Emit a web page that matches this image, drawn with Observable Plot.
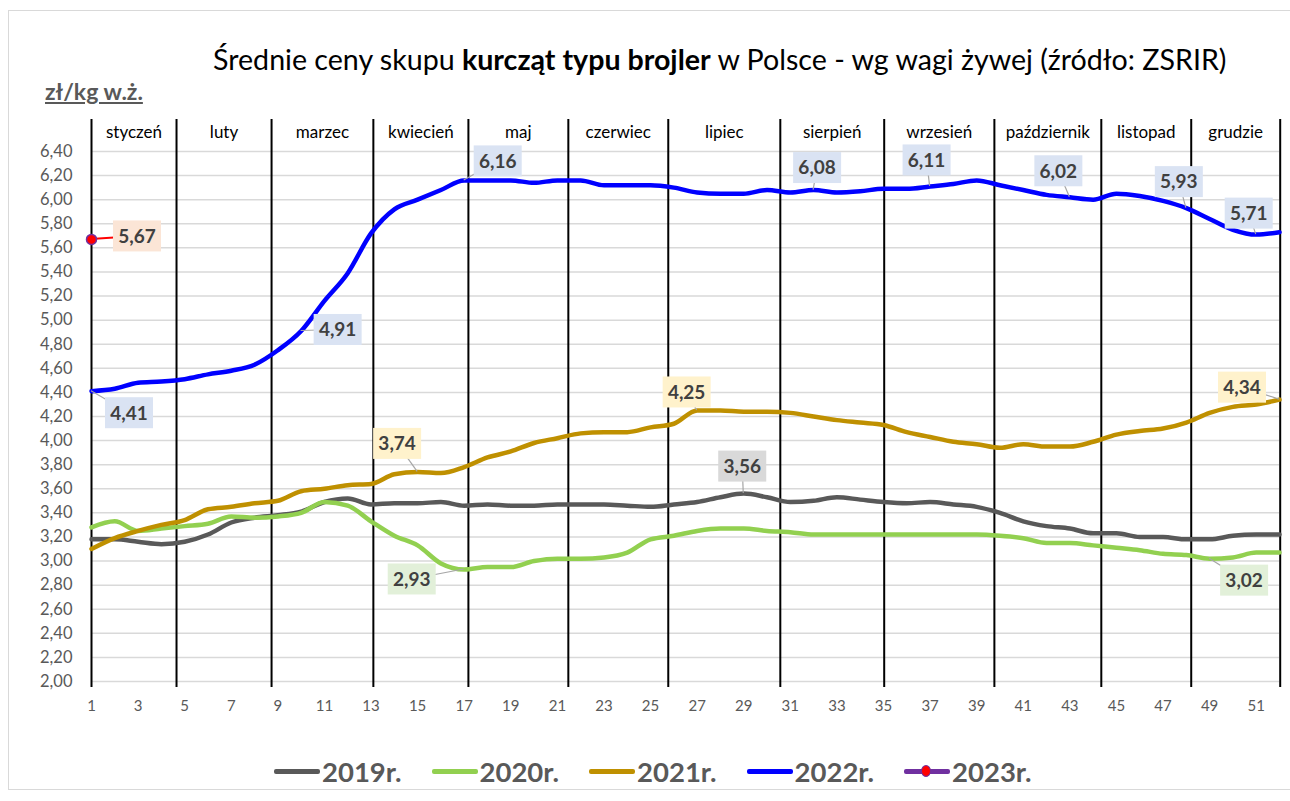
<!DOCTYPE html>
<html>
<head>
<meta charset="utf-8">
<script src="https://cdn.jsdelivr.net/npm/d3@7"></script>
<script src="https://cdn.jsdelivr.net/npm/@observablehq/plot@0.6"></script>
<style>
  body { margin: 0; background: #fff; font-family: Lato, "Open Sans", sans-serif; }
  #wrap { position: relative; width: 1290px; height: 801px; overflow: hidden; }
  #frame { position: absolute; left: 8px; top: 10px; width: 1300px; height: 780px; border: 1px solid #d9d9d9; box-sizing: border-box; }
  #title { position: absolute; left: 213px; top: 42px; white-space: nowrap; font-size: 28.6px; color: #000; }
  #unit { position: absolute; left: 45px; top: 77px; font-size: 23px; font-weight: bold; color: #595959; text-decoration: underline; }
  #chart { position: absolute; left: 0; top: 0; }
  #legend { position: absolute; top: 755px; left: 274px; display: flex; gap: 30px; align-items: center; font-size: 27.5px; font-weight: bold; color: #595959; }
  .item { display: flex; align-items: center; gap: 2px; }
  .sw { position: relative; width: 46px; height: 5px; border-radius: 2px; }
</style>
</head>
<body>
<div id="wrap">
  <div id="frame"></div>
  <div id="title">Średnie ceny skupu <b>kurcząt typu brojler</b> w Polsce - wg wagi żywej (źródło: ZSRIR)</div>
  <div id="unit">zł/kg w.ż.</div>
  <div id="chart"></div>
  <div id="legend"></div>
</div>
<script>
// ---- data ----
const years = ["2019r.", "2020r.", "2021r.", "2022r.", "2023r."];
const colors = ["#595959", "#92d050", "#bf9000", "#0000ff", "#7030a0"];

const y2019 = [3.18,3.18,3.16,3.14,3.16,3.22,3.32,3.36,3.38,3.41,
               3.49,3.52,3.47,3.48,3.48,3.49,3.46,3.47,3.46,3.46,
               3.47,3.47,3.47,3.46,3.45,3.47,3.49,3.53,3.56,3.53,
               3.49,3.50,3.53,3.51,3.49,3.48,3.49,3.47,3.45,3.40,
               3.33,3.29,3.27,3.23,3.23,3.20,3.20,3.18,3.18,3.21,3.22,3.22];
const y2020 = [3.28,3.33,3.25,3.27,3.29,3.31,3.37,3.36,3.37,3.40,
               3.49,3.46,3.33,3.21,3.13,2.98,2.93,2.95,2.95,3.00,
               3.02,3.02,3.03,3.07,3.18,3.21,3.25,3.27,3.27,3.25,
               3.24,3.22,3.22,3.22,3.22,3.22,3.22,3.22,3.22,3.21,
               3.19,3.15,3.15,3.13,3.11,3.09,3.06,3.05,3.02,3.03,3.07,3.07];
const y2021 = [3.10,3.19,3.25,3.30,3.34,3.43,3.45,3.48,3.50,3.58,
               3.60,3.63,3.64,3.72,3.74,3.73,3.78,3.86,3.91,3.98,
               4.02,4.06,4.07,4.07,4.11,4.14,4.25,4.25,4.24,4.24,
               4.23,4.20,4.17,4.15,4.13,4.07,4.03,3.99,3.97,3.94,
               3.97,3.95,3.95,3.99,4.05,4.08,4.10,4.15,4.23,4.28,4.30,4.34];
const y2022 = [4.41,4.43,4.48,4.49,4.51,4.55,4.58,4.63,4.75,4.91,
               5.16,5.39,5.72,5.92,6.00,6.08,6.16,6.16,6.16,6.14,
               6.16,6.16,6.12,6.12,6.12,6.10,6.06,6.05,6.05,6.08,
               6.06,6.08,6.06,6.07,6.09,6.09,6.11,6.13,6.16,6.12,
               6.08,6.04,6.02,6.00,6.05,6.03,5.99,5.93,5.84,5.75,5.71,5.73];
const y2023 = [5.67];

const yTicks = [2.0,2.2,2.4,2.6,2.8,3.0,3.2,3.4,3.6,3.8,4.0,4.2,4.4,4.6,4.8,5.0,5.2,5.4,5.6,5.8,6.0,6.2,6.4];
const xTicks = [1,3,5,7,9,11,13,15,17,19,21,23,25,27,29,31,33,35,37,39,41,43,45,47,49,51];

const monthNames = ["styczeń","luty","marzec","kwiecień","maj","czerwiec","lipiec","sierpień","wrzesień","październik","listopad","grudzie"];
const monthBounds = [1, 4.65, 8.73, 13.1, 17.18, 21.47, 25.76, 30.57, 35.03, 39.76, 44.35, 48.21, 52.03];

// callout labels: year, week, value shown
const calloutYear  = ["2023r.","2022r.","2022r.","2022r.","2022r.","2022r.","2022r.","2022r.","2022r.","2021r.","2021r.","2021r.","2019r.","2020r.","2020r."];
const calloutWeek  = [1, 1, 10, 17, 32, 37, 43, 48, 51, 15, 27, 52, 29, 17, 49];
const calloutValue = [5.67, 4.41, 4.91, 6.16, 6.08, 6.11, 6.02, 5.93, 5.71, 3.74, 4.25, 4.34, 3.56, 2.93, 3.02];
// label box offsets from the point (pixels)
const calloutDx = [46, 38, 37, 34, 4, -3, -11, -7, -7, -20, -10, -37, -1, -52, 35];
const calloutDy = [-3, 22, -1, -19, -22, -26, -26, -26, -21, -28, -18, -12, -27, 10, 22];
const boxFill = {"2019r.": "#d9d9d9", "2020r.": "#e2f0d9", "2021r.": "#fff2cc", "2022r.": "#dae3f3", "2023r.": "#fbe5d6"};

// ---- build tidy data ----
const series = [y2019, y2020, y2021, y2022];
const lineData = [];
series.forEach((arr, i) => arr.forEach((v, j) => lineData.push({year: years[i], week: j + 1, value: v})));
const point2023 = y2023.map((v, j) => ({year: years[4], week: j + 1, value: v}));
const months = monthNames.map((name, i) => ({name, mid: (monthBounds[i] + monthBounds[i + 1]) / 2}));
const callouts = calloutYear.map((y, i) => ({year: y, week: calloutWeek[i], value: calloutValue[i], dx: calloutDx[i], dy: calloutDy[i]}));
const fmt = d => d.toFixed(2).replace(".", ",");

function calloutMark(index, scales) {
  const g = d3.create("svg:g");
  for (const c of callouts) {
    const px = scales.x(c.week), py = scales.y(c.value);
    const cx = px + c.dx, cy = py + c.dy;
    g.append("line").attr("x1", px).attr("y1", py).attr("x2", cx).attr("y2", cy)
      .attr("stroke", c.year === "2023r." ? "#ff0000" : "#a6a6a6").attr("stroke-width", c.year === "2023r." ? 2 : 1.2);
    g.append("rect").attr("x", cx - 24).attr("y", cy - 15.5).attr("width", 48).attr("height", 31)
      .attr("fill", boxFill[c.year]);
    g.append("text").attr("x", cx).attr("y", cy).attr("text-anchor", "middle").attr("dy", "0.36em")
      .attr("font-family", "Lato, sans-serif").attr("font-size", 19).attr("font-weight", "bold").attr("fill", "#404040")
      .text(fmt(c.value));
  }
  return g.node();
}

const plot = Plot.plot({
  width: 1290,
  height: 730,
  marginTop: 151,
  marginBottom: 49,
  marginLeft: 91,
  marginRight: 11,
  style: {fontFamily: "Lato, sans-serif", background: "transparent", overflow: "visible"},
  x: {domain: [1, 52]},
  y: {domain: [2, 6.4]},
  color: {domain: years, range: colors},
  marks: [
    Plot.gridY(yTicks, {stroke: "#d9d9d9", strokeOpacity: 1, strokeWidth: 1.5}),
    Plot.axisY(yTicks, {tickSize: 0, tickPadding: 19, tickFormat: fmt, fontSize: 16.5, fill: "#595959", label: null}),
    Plot.axisX(xTicks, {tickSize: 0, tickPadding: 19, fontSize: 15, fill: "#595959", label: null}),
    Plot.ruleX(monthBounds, {stroke: "#000", strokeWidth: 2, insetTop: -32, insetBottom: -6}),
    Plot.text(months, {x: "mid", text: "name", frameAnchor: "top", dy: -26, fontSize: 17, fill: "#000", letterSpacing: "0.6px"}),
    Plot.line(lineData, {x: "week", y: "value", z: "year", stroke: "year", strokeWidth: 4.5, curve: "monotone-x"}),
    calloutMark,
    Plot.dot(point2023, {x: "week", y: "value", r: 5, fill: "#ff0000", stroke: "#7030a0", strokeWidth: 1.5})
  ]
});
document.getElementById("chart").append(plot);

// legend
const legend = d3.select("#legend");
years.forEach((y, i) => {
  const item = legend.append("div").attr("class", "item");
  const sw = item.append("div").attr("class", "sw").style("background", colors[i]);
  if (i === 4) {
    sw.append("div").style("position", "absolute").style("left", "17px").style("top", "-4.5px")
      .style("width", "10px").style("height", "12px").style("border-radius", "50%")
      .style("background", "#ff0000").style("border", "1.5px solid #7030a0").style("box-sizing", "border-box");
  }
  item.append("span").text(y);
});
</script>
</body>
</html>
